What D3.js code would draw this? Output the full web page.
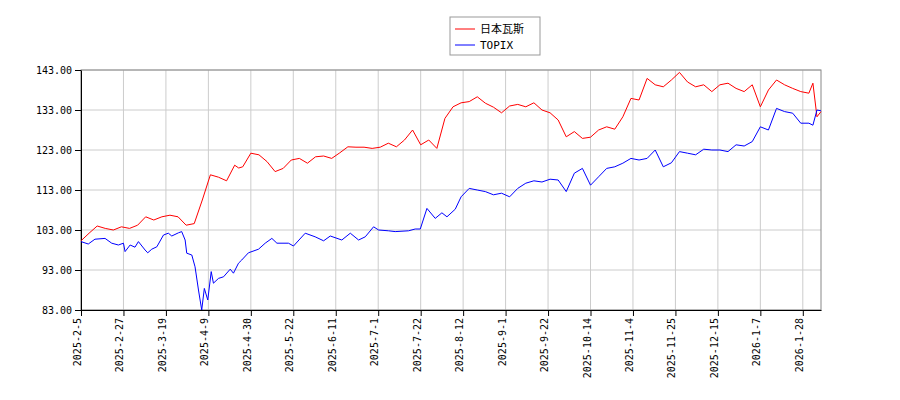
<!DOCTYPE html>
<html><head><meta charset="utf-8">
<script src="https://cdn.jsdelivr.net/npm/d3@7"></script>
<style>body{margin:0;background:#fff}</style>
</head><body><div id="chart"></div>
<script>
// positions are in "slot" units (one slot ≈ one calendar day of axis width)
const days = [0,4,8,12,16,20,24,28,32,36,40,44,48,52,56,60,64,68,72,76,78,80,84,88,92,96,100,104,108,112,116,120,124,128,132,136,140,144,148,152,156,160,164,168,172,176,180,184,188,192,196,200,204,208,212,216,220,224,228,232,236,240,244,248,252,256,260,264,268,272,276,280,284,288,292,296,300,304,308,312,316,320,324,328,332,336,340,344,348,352,356,360,362,364,366];
const nihonGas = [100.3,102.2,104,103.4,103,103.8,103.4,104.2,106.3,105.5,106.3,106.7,106.3,104.2,104.6,110.5,116.8,116.2,115.3,119.2,118.5,118.8,122.2,121.8,120.1,117.6,118.4,120.5,120.9,119.7,121.3,121.5,120.9,122.3,123.8,123.7,123.7,123.4,123.7,124.7,123.8,125.5,128,124.3,125.5,123.4,130.9,133.8,134.8,135.1,136.3,134.7,133.7,132.3,134,134.4,133.8,134.8,133,132.3,130.5,126.3,127.6,125.9,126.2,128,128.8,128.2,131.3,135.9,135.5,140.9,139.3,138.8,140.5,142.4,140,138.8,139.3,137.6,139.3,139.7,138.4,137.6,139.3,133.8,138,140.5,139.3,138.4,137.6,137.2,139.7,131.3,132.6];
const topixDays = [0,3.6,6.9,11.9,15.2,18.5,21,21.8,24.3,26.7,28.4,31.7,33,35,37.5,40.8,43.2,44.9,48.2,49.8,51.5,52.3,54.8,56.4,58.1,59.7,61,62.7,64.4,65.5,68,70.5,73.8,75.4,77.9,79.5,82.8,87.8,91.1,94.4,96.9,102.6,105.1,110.9,115.8,120,123.3,129,133.2,137.3,140.6,144.7,147.2,152.1,155.4,162,165.3,167.8,171.1,175.2,178.5,181,185.1,188,192,196,200,204,208,212,216,220,224,228,232,236,240,244,248,252,256,260,264,268,272,276,280,284,288,292,296,300,304,308,312,316,320,324,328,332,336,340,344,348,352,356,360,362,364,366];
const topix = [100.1,99.5,100.7,100.9,99.7,99.25,99.7,97.6,99.25,98.7,100.1,98,97.3,98.2,98.8,101.75,102.2,101.5,102.3,102.6,100.5,97.2,96.75,93.8,88,83,88.4,85.5,92.6,89.7,90.9,91.3,93.2,92.2,94.7,95.5,97.3,98.2,99.7,100.9,99.7,99.7,99,102.2,101.3,100.3,101.5,100.5,102.2,100.5,101.3,103.8,103,102.8,102.6,102.8,103.25,103.25,108.4,105.9,107.3,106.3,108.2,111.3,113.4,113,112.6,111.8,112.2,111.3,113.4,114.7,115.3,115,115.7,115.5,112.6,117.2,118.4,114.2,116.3,118.4,118.8,119.7,120.9,120.5,120.9,123,118.8,119.8,122.6,122.2,121.8,123.2,123,123,122.6,124.3,124,125.1,128.8,128,133.4,132.6,132.2,129.7,129.7,129.2,133,132.8];
const yTicks = [83,93,103,113,123,133,143];
const tickDays = [0,21,42,63,84,105,126,147,168,189,210,231,252,273,294,315,336,357];
const tickLabels = ["2025-2-5","2025-2-27","2025-3-19","2025-4-9","2025-4-30","2025-5-22","2025-6-11","2025-7-1","2025-7-22","2025-8-12","2025-9-1","2025-9-22","2025-10-14","2025-11-4","2025-11-25","2025-12-15","2026-1-7","2026-1-28"];

const W = 900, H = 400;
const m = {left: 81, right: 79, top: 70, bottom: 90};
const mono = "'DejaVu Sans Mono', monospace";

const svg = d3.select("#chart").append("svg").attr("width", W).attr("height", H)
  .style("font-family", mono);

const x = d3.scaleLinear().domain([0, 366]).range([m.left, W - m.right]);
const y = d3.scaleLinear().domain([83, 143]).range([H - m.bottom, m.top]);

// grid
svg.append("g").selectAll("line").data(yTicks).join("line")
  .attr("x1", m.left).attr("x2", W - m.right)
  .attr("y1", d => y(d)).attr("y2", d => y(d))
  .attr("stroke", "#ccc");
svg.append("g").selectAll("line").data(tickDays).join("line")
  .attr("x1", d => x(d)).attr("x2", d => x(d))
  .attr("y1", m.top).attr("y2", H - m.bottom)
  .attr("stroke", "#ccc");

svg.append("rect").attr("x", m.left).attr("y", m.top)
  .attr("width", W - m.left - m.right).attr("height", H - m.top - m.bottom)
  .attr("fill", "none").attr("stroke", "#888");

const yAxis = svg.append("g").attr("transform", `translate(${m.left},0)`)
  .call(d3.axisLeft(y).tickValues(yTicks).tickFormat(d3.format(".2f")).tickSizeOuter(0));
yAxis.select(".domain").attr("stroke", "#000");
yAxis.selectAll("text").attr("font-size", 10).attr("font-family", mono);

const xAxis = svg.append("g").attr("transform", `translate(0,${H - m.bottom})`)
  .call(d3.axisBottom(x).tickValues(tickDays).tickFormat((d, i) => tickLabels[i]).tickSizeOuter(0));
xAxis.select(".domain").attr("stroke", "#000");
xAxis.selectAll("text").attr("font-size", 10).attr("font-family", mono)
  .attr("transform", "rotate(-90)").attr("text-anchor", "end")
  .attr("x", -8).attr("y", -4).attr("dy", "0.35em");

const line = (xs, vals) => d3.line().x((d, i) => x(xs[i])).y(d => y(d))(vals);
svg.append("path").attr("d", line(days, nihonGas)).attr("fill", "none").attr("stroke", "#f00").attr("stroke-width", 1);
svg.append("path").attr("d", line(topixDays, topix)).attr("fill", "none").attr("stroke", "#00f").attr("stroke-width", 1);

// legend
const lg = svg.append("g").attr("transform", "translate(450,17)");
lg.append("rect").attr("width", 90).attr("height", 38).attr("fill", "#fff").attr("stroke", "#999");
[["日本瓦斯", "#f00"], ["TOPIX", "#00f"]].forEach(([t, c], i) => {
  const yy = 12 + i * 16;
  lg.append("line").attr("x1", 5).attr("x2", 25).attr("y1", yy).attr("y2", yy).attr("stroke", c);
  lg.append("text").attr("x", 30).attr("y", yy + 4).attr("font-size", 11)
    .style("font-family", "'DejaVu Sans Mono','Noto Sans CJK JP',monospace").text(t);
});
</script></body></html>
